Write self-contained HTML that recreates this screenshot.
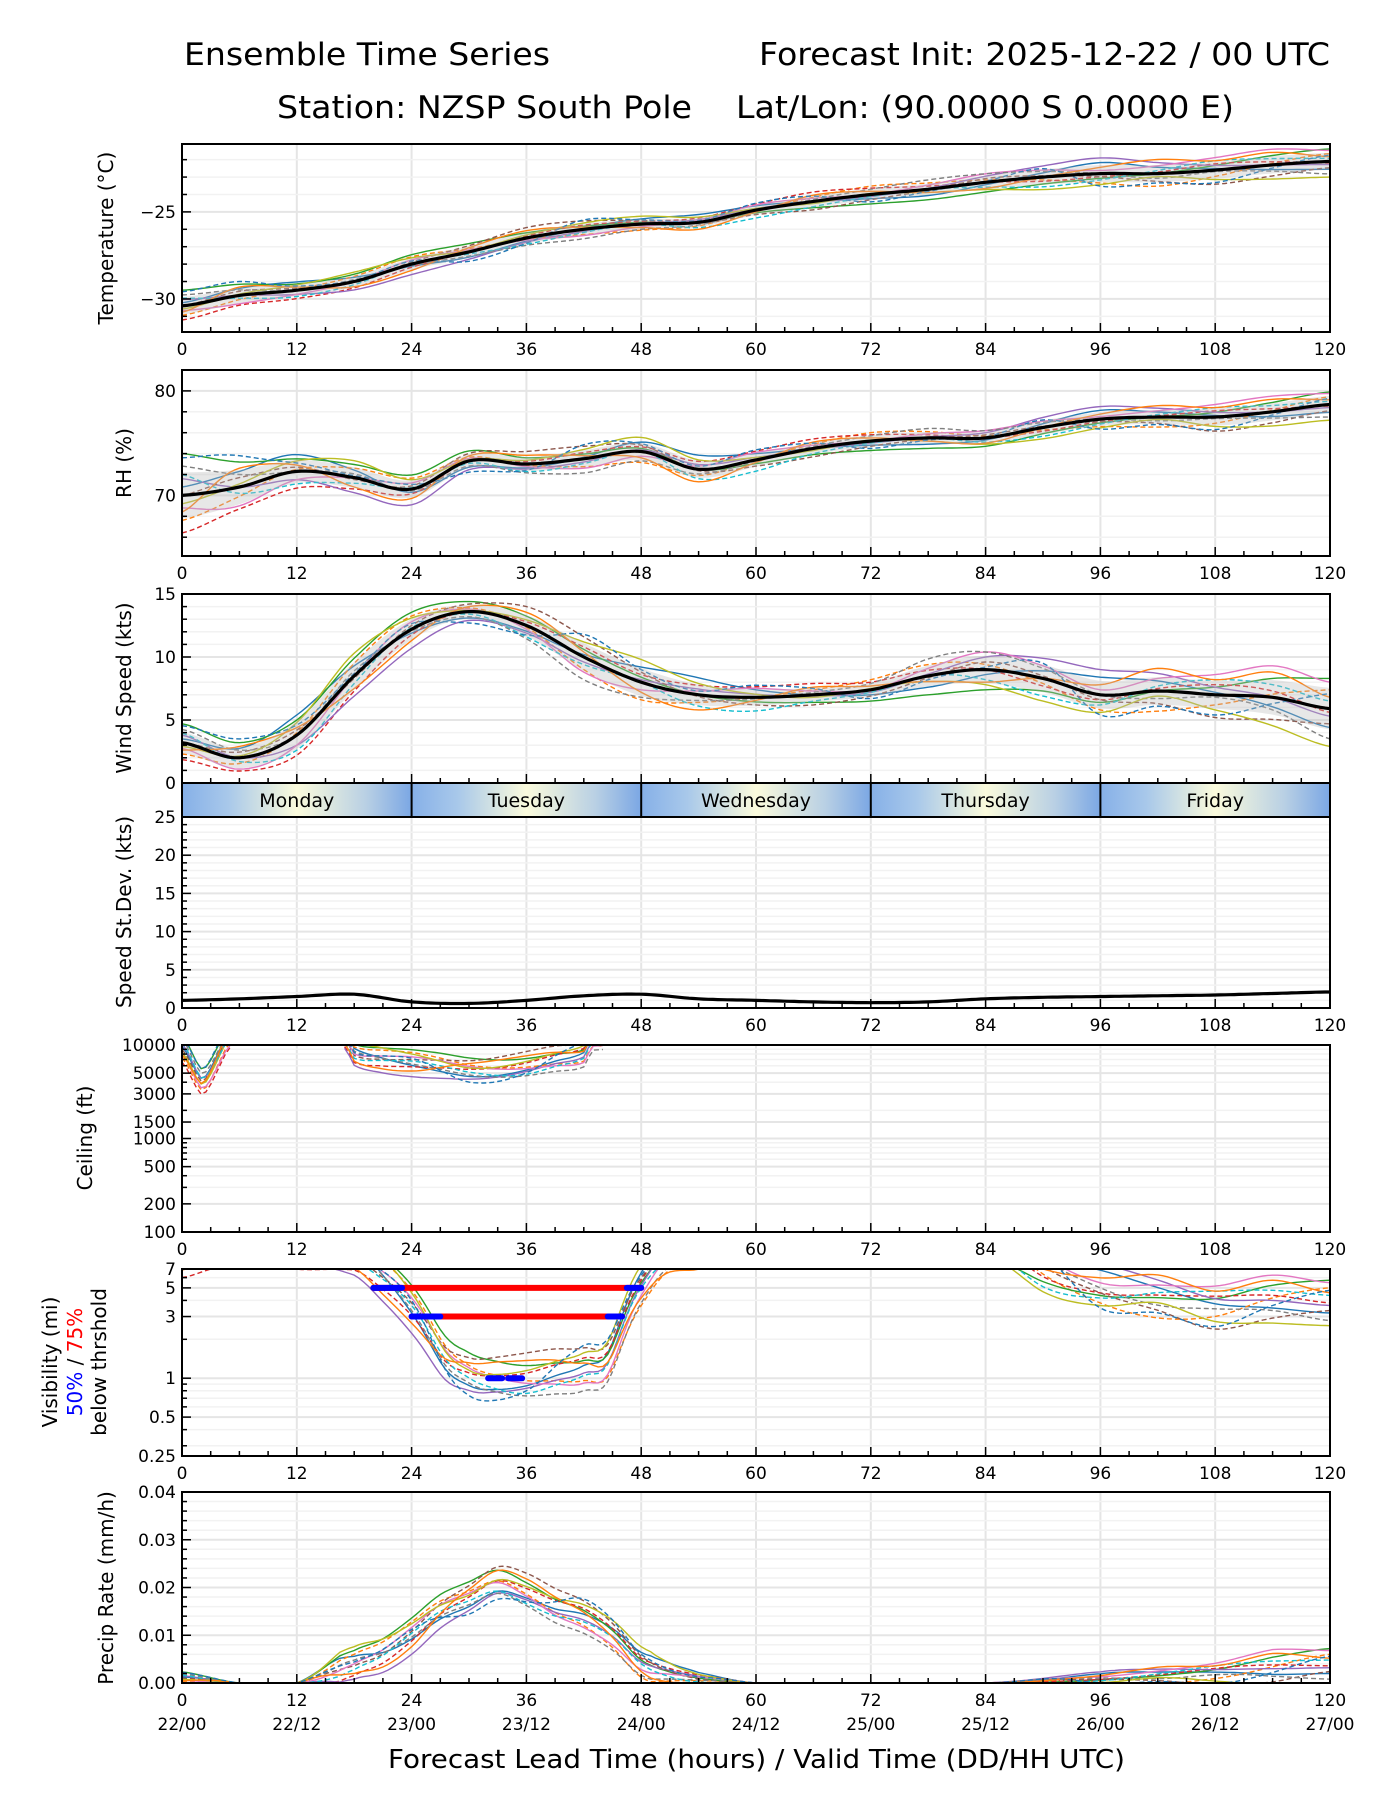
<!DOCTYPE html>
<html><head><meta charset="utf-8"><title>Ensemble Time Series</title>
<style>
html,body{margin:0;padding:0;background:#fff;}
svg{display:block;font-family:"DejaVu Sans","Liberation Sans",sans-serif;}
</style></head>
<body>
<svg id="chart" width="1400" height="1800" viewBox="0 0 1400 1800" xmlns="http://www.w3.org/2000/svg">
<defs>
<linearGradient id="dayGrad" x1="0" x2="1" y1="0" y2="0">
<stop offset="0" stop-color="#86b0e8"/><stop offset="0.2" stop-color="#a8c8ea"/><stop offset="0.5" stop-color="#fbfbdc"/><stop offset="0.8" stop-color="#b9d0e4"/><stop offset="1" stop-color="#7ba7e4"/>
</linearGradient>
</defs>
<g>
<text x="184" y="65" font-size="31" textLength="366" lengthAdjust="spacingAndGlyphs">Ensemble Time Series</text>
<text x="759" y="65" font-size="31" textLength="571" lengthAdjust="spacingAndGlyphs">Forecast Init: 2025-12-22 / 00 UTC</text>
<text x="277" y="118" font-size="31" textLength="415" lengthAdjust="spacingAndGlyphs">Station: NZSP South Pole</text>
<text x="736" y="118" font-size="31" textLength="498" lengthAdjust="spacingAndGlyphs">Lat/Lon: (90.0000 S 0.0000 E)</text>
</g>
<text x="388" y="1768" font-size="26" textLength="737" lengthAdjust="spacingAndGlyphs">Forecast Lead Time (hours) / Valid Time (DD/HH UTC)</text>
<g id="root"></g>
</svg>
<script>
// ---------- data ----------
const hours6 = [0,6,12,18,24,30,36,42,48,54,60,66,72,78,84,90,96,102,108,114,120];
const tempMean = [-30.4,-29.8,-29.5,-29.0,-28.0,-27.3,-26.5,-26.0,-25.7,-25.6,-24.9,-24.4,-24.0,-23.7,-23.3,-23.0,-22.8,-22.8,-22.6,-22.3,-22.1];
const tempSpread = [0.9,0.8,0.6,0.6,0.6,0.6,0.6,0.6,0.5,0.5,0.5,0.6,0.6,0.6,0.7,0.8,0.9,0.9,0.9,0.9,0.9];
const rhMean = [70.0,70.8,72.3,71.7,70.6,73.3,73.0,73.5,74.2,72.5,73.4,74.5,75.2,75.5,75.5,76.5,77.3,77.5,77.5,78.0,78.7];
const rhSpread = [4,3,2,1.8,1.5,1.2,1.2,1.5,1.5,1.5,1.2,1,1,1,1,1.2,1.2,1.2,1.5,1.5,1.5];
const windMean = [3.2,2.0,3.8,8.5,12.2,13.6,12.5,10.0,8.0,7.0,6.8,7.0,7.4,8.5,9.0,8.3,7.0,7.3,7.0,6.8,5.9];
const windSpread = [1.5,1.5,2,2,1.5,1,1.5,2,2,1.5,1.2,1,1,1.5,2,2,2,2,2,2.5,3];
const stdMean = [1.0,1.2,1.5,1.8,0.8,0.6,1.0,1.6,1.8,1.2,1.0,0.8,0.7,0.8,1.2,1.4,1.5,1.6,1.7,1.9,2.1];
const ceilHours = [0,1,2,3,4,5,17,18,21,24,27,30,33,36,39,42,43];
const ceilMean = [9000,6000,4000,5000,8000,12000,12000,8000,7000,6500,6000,5500,5500,6000,7000,8000,12000];
const visHours = [0,3,6,12,18,21,24,27,30,33,36,39,42,45,48,51,54,60,66,84,90,96,102,108,114,120];
const visMean = [9,10,11,10,9,6,3.5,1.6,1.1,1.0,1.0,1.1,1.2,1.6,5,9,10,11,12,12,7,5,4.2,3.6,4,4];
const precHours = [0,6,12,18,21,24,27,30,33,36,39,42,45,48,51,54,60,72,84,96,102,108,114,120];
const precMean = [0.001,0,0,0.004,0.006,0.010,0.015,0.018,0.021,0.019,0.016,0.014,0.010,0.004,0.002,0.001,0,0,0,0.001,0.0015,0.002,0.003,0.004];
const thr5Start = [20,48]; const thr3Start = [24,46]; const thr1Start = [32,36];
const dayNames = ["Monday","Tuesday","Wednesday","Thursday","Friday"];
const xTickHours = [0,12,24,36,48,60,72,84,96,108,120];
const xTickDates = ["22/00","22/12","23/00","23/12","24/00","24/12","25/00","25/12","26/00","26/12","27/00"];
const memberDev = [
[0.2,0.5,0.8,0.4,-0.2,-0.5,-0.3,0.1,0.6,0.9,0.5,0.0,-0.4,-0.6,-0.2,0.3,0.7,0.4,0.1,-0.3,-0.5],
[-0.6,-0.3,0.1,0.5,0.7,0.3,-0.1,-0.5,-0.7,-0.4,0.0,0.4,0.8,0.6,0.2,-0.2,-0.6,-0.8,-0.4,0.1,0.5],
[1.0,0.8,0.6,0.7,0.9,0.8,0.5,0.3,0.2,0.0,-0.3,-0.6,-0.9,-1.0,-0.8,-0.5,-0.3,0.0,0.3,0.6,0.8],
[-0.9,-0.7,-0.8,-0.6,-0.3,0.0,0.2,0.4,0.3,0.5,0.7,0.9,0.6,0.3,0.0,-0.3,-0.2,0.1,0.4,0.2,-0.1],
[0.4,0.0,-0.4,-0.8,-1.0,-0.7,-0.4,-0.2,0.1,0.3,0.2,-0.1,-0.2,0.1,0.5,0.8,1.0,0.7,0.3,0.0,-0.2],
[0.0,0.3,0.2,-0.1,0.2,0.6,1.0,0.8,0.4,-0.1,-0.5,-0.8,-0.5,-0.1,0.3,0.1,-0.2,-0.5,-0.9,-0.7,-0.4],
[-0.3,-0.6,-0.4,0.0,0.4,0.2,-0.2,-0.6,-0.3,0.2,0.6,0.3,0.0,0.4,0.7,0.5,0.2,0.5,0.8,1.0,0.7],
[0.7,0.4,0.0,0.2,-0.1,-0.4,-0.7,-0.9,-0.6,-0.3,-0.1,0.2,0.5,0.9,0.7,0.4,0.0,-0.3,-0.1,-0.4,-0.8],
[-0.2,0.1,0.5,0.9,0.6,0.1,0.3,0.6,0.9,0.6,0.2,-0.2,0.1,-0.3,-0.6,-0.9,-0.7,-0.2,-0.6,-0.9,-1.0],
[0.5,-0.2,-0.6,-0.3,0.1,-0.2,-0.6,-0.3,0.0,-0.6,-0.9,-0.5,-0.2,0.0,-0.4,-0.7,-0.4,0.2,0.6,0.4,0.2],
[-0.4,0.6,0.3,-0.5,-0.6,0.4,0.7,0.2,-0.4,-0.8,-0.2,0.6,0.3,-0.3,-0.5,0.0,0.4,0.9,0.6,0.8,0.3],
[0.9,1.0,0.4,0.1,0.3,-0.9,-0.5,0.9,0.5,0.2,0.8,0.5,-0.7,-0.2,0.1,0.6,-0.8,-0.6,-0.8,-0.2,0.4]
];
const colors = ["#1f77b4","#ff7f0e","#2ca02c","#d62728","#9467bd","#8c564b","#e377c2","#7f7f7f","#bcbd22","#17becf","#ff7f0e","#1f77b4"];

// ---------- helpers ----------
const NS = "http://www.w3.org/2000/svg";
const root = document.getElementById("root");
const L = 182, R = 1330;
function el(tag, attrs, parent){ const e=document.createElementNS(NS,tag); for(const k in attrs) e.setAttribute(k,attrs[k]); (parent||root).appendChild(e); return e; }
function xs(h){ return L + (h/120)*(R-L); }
function interp(hs, vs, x){
  if(x<=hs[0]) return vs[0];
  if(x>=hs[hs.length-1]) return vs[vs.length-1];
  let i=0; while(hs[i+1]<x) i++;
  const t=(x-hs[i])/(hs[i+1]-hs[i]);
  const p0=vs[Math.max(0,i-1)], p1=vs[i], p2=vs[i+1], p3=vs[Math.min(vs.length-1,i+2)];
  const t2=t*t, t3=t2*t;
  return 0.5*((2*p1)+(-p0+p2)*t+(2*p0-5*p1+4*p2-p3)*t2+(-p0+3*p1-3*p2+p3)*t3);
}
function devAt(k, x){ return interp(hours6, memberDev[k], x); }
function pathFrom(fn, x0, x1, ys){
  let d=""; for(let x=x0; x<=x1+1e-9; x+=0.5){ const v=fn(x); d += (d?"L":"M")+xs(x).toFixed(1)+","+ys(v).toFixed(1); } return d;
}
let clipId=0;
function panel(name, top, bot, yMin, yMax, log){
  const g = el("g",{});  
  const ys = log ? (v)=> bot - (Math.log(Math.max(v,1e-9))-Math.log(yMin))/(Math.log(yMax)-Math.log(yMin))*(bot-top)
                 : (v)=> bot - (v-yMin)/(yMax-yMin)*(bot-top);
  const cid = "clip"+(clipId++);
  const cp = el("clipPath",{id:cid},g); el("rect",{x:L,y:top,width:R-L,height:bot-top},cp);
  const grid = el("g",{},g);
  const plot = el("g",{"clip-path":"url(#"+cid+")"},g);
  const frame = el("g",{},g);
  return {g,ys,top,bot,grid,plot,frame};
}
function xgrid(p){
  for(const h of xTickHours){ const ln=el("line",{x1:xs(h),x2:xs(h),y1:p.top,y2:p.bot,stroke:"#e5e5e5","stroke-width":2},p.grid);   }
}
function ygrid(p, vals, minor){
  for(const v of (minor||[])){ const y=p.ys(v); el("line",{x1:L,x2:R,y1:y,y2:y,stroke:"#f2f2f2","stroke-width":1.5},p.grid); el("line",{x1:L,x2:L+5,y1:y,y2:y,stroke:"#000","stroke-width":1.5},p.frame); }
  for(const v of vals){ const y=p.ys(v); el("line",{x1:L,x2:R,y1:y,y2:y,stroke:"#e5e5e5","stroke-width":2},p.grid); el("line",{x1:L,x2:L+9,y1:y,y2:y,stroke:"#000","stroke-width":1.5},p.frame); }
}
function yLabels(p, vals, texts){
  vals.forEach((v,i)=>{ const t=el("text",{x:L-6,y:p.ys(v)+6,"font-size":17,"text-anchor":"end"},p.frame); t.textContent=texts[i];
      });
}
function frameBox(p, xlabels, dates){
  el("rect",{x:L,y:p.top,width:R-L,height:p.bot-p.top,fill:"none",stroke:"#000","stroke-width":2},p.frame);
  for(let h=0;h<=120;h+=3){ const len = h%12===0?9:5; el("line",{x1:xs(h),x2:xs(h),y1:p.bot,y2:p.bot-len,stroke:"#000","stroke-width":1.5},p.frame); }
  if(xlabels){ xTickHours.forEach((h,i)=>{ const t=el("text",{x:xs(h),y:p.bot+23,"font-size":17,"text-anchor":"middle"},p.frame); t.textContent=String(h);
     
    if(dates){ const d=el("text",{x:xs(h),y:p.bot+47,"font-size":17,"text-anchor":"middle"},p.frame); d.textContent=xTickDates[i];
        } }); }
}
function yTitle(lines, cx, cy){
  lines.forEach((ln,i)=>{ const t=el("text",{transform:`translate(${ln.x},${cy}) rotate(-90)`,"font-size":20,"text-anchor":"middle"});
     
    ln.parts.forEach(pt=>{ const s=el("tspan",{fill:pt.c||"#000"},t); s.textContent=pt.t; }); });
}
function drawMembers(p, fn, x0, x1){
  memberDev.forEach((_,k)=>{
    const path=el("path",{d:pathFrom(x=>fn(x,k),x0,x1,p.ys),fill:"none",stroke:colors[k],"stroke-width":1.4,"stroke-dasharray":k%2?"5,3":"none"},p.plot);
     
  });
}
function drawBand(p, mean, spread){
  let up="",lo=[];
  for(let x=0;x<=120;x+=1){ const m=interp(hours6,mean,x), s=interp(hours6,spread,x)*0.55; up+=(up?"L":"M")+xs(x)+","+p.ys(m+s); lo.push("L"+xs(x)+","+p.ys(m-s)); }
  const b=el("path",{d:up+lo.reverse().join("")+"Z",fill:"#bbbbbb","fill-opacity":0.35,stroke:"none"},p.plot);
   
}
function drawMean(p, hs, mean){
  const m=el("path",{d:pathFrom(x=>interp(hs,mean,x),0,120,p.ys),fill:"none",stroke:"#000","stroke-width":3.2},p.plot);
   
}

// ---------- Temperature ----------
{ const p=panel("temperature-panel",144,332,-31.9,-21.1,false);
  xgrid(p); ygrid(p,[-30,-25],[-31,-29,-28,-27,-26,-24,-23,-22]);
  drawMembers(p,(x,k)=>interp(hours6,tempMean,x)+devAt(k,x)*interp(hours6,tempSpread,x),0,120);
  drawBand(p,tempMean,tempSpread); drawMean(p,hours6,tempMean);
  yLabels(p,[-30,-25],["\u221230","\u221225"]); frameBox(p,true);
  yTitle([{x:113,parts:[{t:"Temperature (°C)"}]}],0,238); }
// ---------- RH ----------
{ const p=panel("rh-panel",370,556,64.2,82,false);
  xgrid(p); ygrid(p,[70,80],[66,68,72,74,76,78,82]);
  drawMembers(p,(x,k)=>interp(hours6,rhMean,x)+devAt(k,x)*interp(hours6,rhSpread,x),0,120);
  drawBand(p,rhMean,rhSpread); drawMean(p,hours6,rhMean);
  yLabels(p,[70,80],["70","80"]); frameBox(p,true);
  yTitle([{x:131,parts:[{t:"RH (%)"}]}],0,463); }
// ---------- Wind ----------
{ const p=panel("wind-speed-panel",594,783,0,15,false);
  xgrid(p); ygrid(p,[0,5,10,15],[1,2,3,4,6,7,8,9,11,12,13,14]);
  drawMembers(p,(x,k)=>Math.max(0.5,interp(hours6,windMean,x)+devAt(k,x)*interp(hours6,windSpread,x)),0,120);
  drawBand(p,windMean,windSpread); drawMean(p,hours6,windMean);
  yLabels(p,[0,5,10,15],["0","5","10","15"]); frameBox(p,false);
  yTitle([{x:131,parts:[{t:"Wind Speed (kts)"}]}],0,688); }
// ---------- Day strip ----------
{ const g=el("g",{});  
  dayNames.forEach((d,i)=>{ const x0=xs(i*24), x1=xs(i*24+24);
    const r=el("rect",{x:x0,y:783,width:x1-x0,height:34,fill:"url(#dayGrad)"},g);
     
    const t=el("text",{x:(x0+x1)/2,y:807,"font-size":19,"text-anchor":"middle"},g); t.textContent=d;
     
    if(i>0) el("line",{x1:x0,x2:x0,y1:783,y2:817,stroke:"#000","stroke-width":2},g); });
  el("rect",{x:L,y:783,width:R-L,height:34,fill:"none",stroke:"#000","stroke-width":2},g); }
// ---------- Std dev ----------
{ const p=panel("speed-stdev-panel",817,1008,0,25,false);
  const minor=[]; for(let v=1;v<25;v++) if(v%5) minor.push(v);
  xgrid(p); ygrid(p,[0,5,10,15,20,25],minor);
  drawMean(p,hours6,stdMean);
  yLabels(p,[0,5,10,15,20,25],["0","5","10","15","20","25"]); frameBox(p,true);
  yTitle([{x:131,parts:[{t:"Speed St.Dev. (kts)"}]}],0,912); }
// ---------- Ceiling ----------
{ const p=panel("ceiling-panel",1045,1232,100,10000,true);
  xgrid(p); ygrid(p,[100,200,500,1000,1500,3000,5000,10000],[300,400,600,700,800,900,2000,4000,6000,7000,8000,9000]);
  drawMembers(p,(x,k)=>interp(ceilHours,ceilMean,x)*Math.exp(0.35*devAt(k,x)),0,5);
  drawMembers(p,(x,k)=>interp(ceilHours,ceilMean,x)*Math.exp(0.35*devAt(k,x)),17,44);
  yLabels(p,[100,200,500,1000,1500,3000,5000,10000],["100","200","500","1000","1500","3000","5000","10000"]); frameBox(p,true);
  yTitle([{x:92,parts:[{t:"Ceiling (ft)"}]}],0,1138); }
// ---------- Visibility ----------
{ const p=panel("visibility-panel",1269,1456,0.25,7,true);
  xgrid(p); ygrid(p,[0.25,0.5,1,3,5,7],[0.3,0.4,0.6,0.7,0.8,0.9,2,4,6]);
  drawMembers(p,(x,k)=>interp(visHours,visMean,x)*Math.exp(0.45*devAt(k,x)),0,120);
  const bars=[[thr5Start,5],[thr3Start,3]];
  bars.forEach(([r,v])=>{ const y=p.ys(v);
    const a=el("line",{x1:xs(r[0]),x2:xs(r[1]),y1:y,y2:y,stroke:"#ff0000","stroke-width":6,"stroke-linecap":"round"},p.plot);
     
    el("line",{x1:xs(r[0]),x2:xs(r[0]+3),y1:y,y2:y,stroke:"#0000ff","stroke-width":6,"stroke-linecap":"round"},p.plot);
    el("line",{x1:xs(r[1]-1.5),x2:xs(r[1]),y1:y,y2:y,stroke:"#0000ff","stroke-width":6,"stroke-linecap":"round"},p.plot); });
  const b=el("line",{x1:xs(thr1Start[0]),x2:xs(thr1Start[1]),y1:p.ys(1),y2:p.ys(1),stroke:"#0000ff","stroke-width":6,"stroke-dasharray":"14,6","stroke-linecap":"round"},p.plot);
   
  yLabels(p,[0.25,0.5,1,3,5,7],["0.25","0.5","1","3","5","7"]); frameBox(p,true);
  yTitle([{x:57,parts:[{t:"Visibility (mi)"}]},{x:82,parts:[{t:"50%",c:"#0000ff"},{t:" / "},{t:"75%",c:"#ff0000"}]},{x:106,parts:[{t:"below thrshold"}]}],0,1362); }
// ---------- Precip ----------
{ const p=panel("precip-rate-panel",1492,1683,0,0.04,false);
  xgrid(p); ygrid(p,[0,0.01,0.02,0.03,0.04],[0.002,0.004,0.006,0.008,0.012,0.014,0.016,0.018,0.022,0.024,0.026,0.028,0.032,0.034,0.036,0.038]);
  drawMembers(p,(x,k)=>{ const m=Math.max(0,interp(precHours,precMean,x)); return Math.max(0,m+0.004*devAt(k,x)*Math.min(1,m/0.003)); },0,120);
  yLabels(p,[0,0.01,0.02,0.03,0.04],["0.00","0.01","0.02","0.03","0.04"]); frameBox(p,true,true);
  yTitle([{x:113,parts:[{t:"Precip Rate (mm/h)"}]}],0,1588); }
</script>
</body></html>
